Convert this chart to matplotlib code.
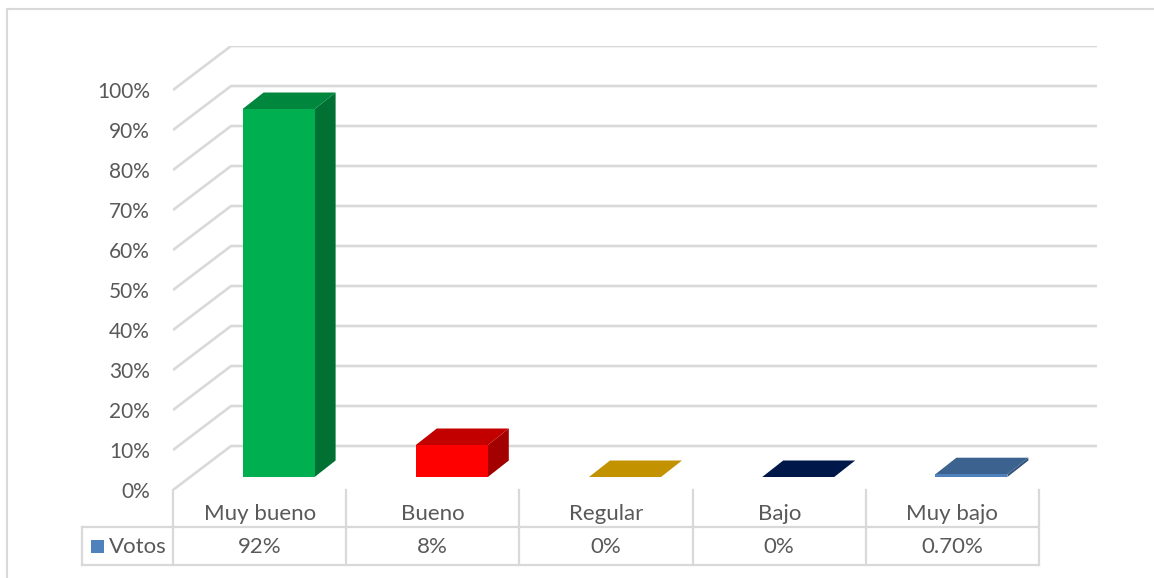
import matplotlib
matplotlib.use("Agg")
import matplotlib.pyplot as plt
from matplotlib.patches import Polygon, Rectangle

# ---- data ----
categories = ["Muy bueno", "Bueno", "Regular", "Bajo", "Muy bajo"]
votos = [92, 8, 0, 0, 0.7]
value_labels = ["92%", "8%", "0%", "0%", "0.70%"]
series_name = "Votos"
y_ticks = [0, 10, 20, 30, 40, 50, 60, 70, 80, 90, 100]
bar_colors = ["#00B050", "#FF0000", "#FFC000", "#002060", "#4F81BD"]
legend_color = "#4F81BD"

# ---- style / layout ----
W, H = 1154, 578
FONT = "Lato"
TXT = "#595959"
GRID = "#D9D9D9"
plt.rcParams["font.family"] = [FONT, "DejaVu Sans"]

fig = plt.figure(figsize=(W / 100, H / 100), dpi=100)

# pixel-space overlay for the frame and the data table
ov = fig.add_axes([0, 0, 1, 1])
ov.set_xlim(0, W)
ov.set_ylim(H, 0)
ov.axis("off")

# main plot axes (front plane: category units x, percent y)
px_cat = 173.2
px_pct = 4.0
left_px, front_base_px = 173, 490
wall_dx, wall_dy = 58 / px_cat, 44 / px_pct
xmin, xmax = -0.5, len(categories) - 0.5 + wall_dx
ymax = 100 + wall_dy
ax_w = (xmax - xmin) * px_cat
ax_h = ymax * px_pct
ax = fig.add_axes([left_px / W, 1 - front_base_px / H, ax_w / W, ax_h / H])
ax.set_xlim(xmin, xmax)
ax.set_ylim(0, ymax)
ax.axis("off")

# frame lines
ov.plot([7, W], [9, 9], color=GRID, lw=1.5)
ov.plot([7, 7], [9, H], color=GRID, lw=1.5)

# gridlines: side wall diagonal + back wall horizontal
for t in y_ticks:
    ax.plot([xmin, xmin + wall_dx, xmax], [t, t + wall_dy, t + wall_dy],
            color=GRID, lw=1.9, solid_capstyle="butt", zorder=1)
    ax.text(xmin - 23 / px_cat, t - 0.4, f"{t}%", ha="right", va="center",
            fontsize=15, color=TXT, clip_on=False)

# 3D bars
bw = 72 / px_cat
dx0, dy0 = 19 / px_cat, 13 / px_pct
dx1, dy1 = 21 / px_cat, 16.5 / px_pct


def shade(hexc, f):
    r, g, b = matplotlib.colors.to_rgb(hexc)
    return (r * f, g * f, b * f)


for i, (v, c) in enumerate(zip(votos, bar_colors)):
    x0 = i - bw / 2 + dx0
    x1 = i + bw / 2 + dx0
    yb = dy0
    yt = dy0 + v
    side = [(x1, yb), (x1 + dx1, yb + dy1), (x1 + dx1, yt + dy1), (x1, yt)]
    top = [(x0, yt), (x1, yt), (x1 + dx1, yt + dy1), (x0 + dx1, yt + dy1)]
    front = [(x0, yb), (x1, yb), (x1, yt), (x0, yt)]
    ax.add_patch(Polygon(side, closed=True, fc=shade(c, 0.64), ec="none", zorder=3))
    ax.add_patch(Polygon(top, closed=True, fc=shade(c, 0.76), ec="none", zorder=3))
    ax.add_patch(Polygon(front, closed=True, fc=c, ec="none", zorder=4))

# data table
n = len(categories)
col_edges = [left_px + k * px_cat for k in range(n + 1)]
row_top, row_mid, row_bot = 490, 527, 565
tab_left = 82
for xe in col_edges:
    ov.plot([xe, xe], [row_top, row_bot], color=GRID, lw=1.6)
ov.plot([tab_left, tab_left], [row_mid, row_bot], color=GRID, lw=1.6)
ov.plot([tab_left, col_edges[-1]], [row_mid, row_mid], color=GRID, lw=1.6)
ov.plot([tab_left, col_edges[-1]], [row_bot, row_bot], color=GRID, lw=1.6)

for k, (cat, lab) in enumerate(zip(categories, value_labels)):
    cx = (col_edges[k] + col_edges[k + 1]) / 2
    ov.text(cx, (row_top + row_mid) / 2 + 6, cat, ha="center", va="center",
            fontsize=16, color=TXT)
    ov.text(cx, (row_mid + row_bot) / 2 + 1, lab, ha="center", va="center",
            fontsize=16, color=TXT)

ov.add_patch(Rectangle((91, 540), 13, 13, fc=legend_color, ec="none"))
ov.text(109, (row_mid + row_bot) / 2 + 1, series_name, ha="left", va="center",
        fontsize=16, color=TXT)

fig.savefig("out.png", dpi=100)
